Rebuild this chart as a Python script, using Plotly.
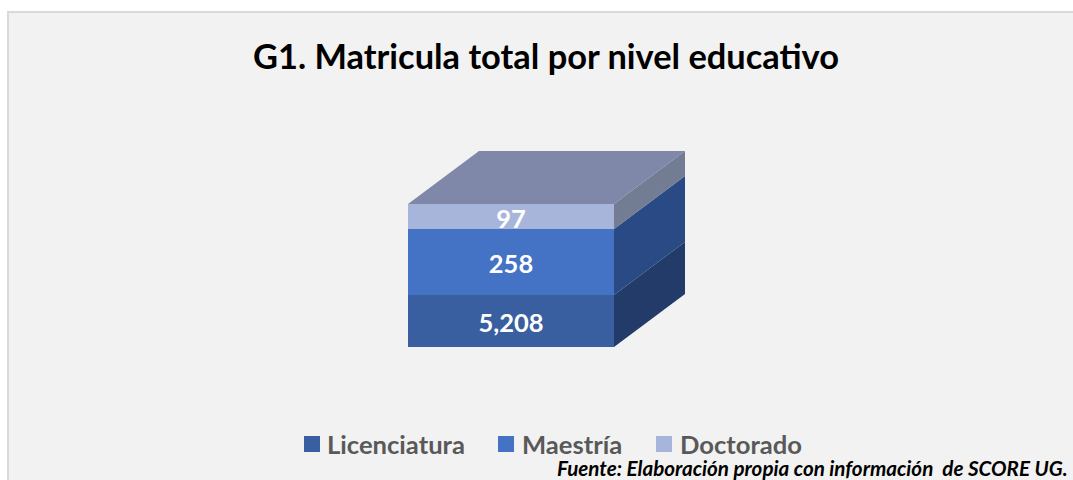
import plotly.graph_objects as go

W, H = 1073, 480

# Data
levels = ["Licenciatura", "Maestría", "Doctorado"]
labels = ["5,208", "258", "97"]
# Height of each layer as drawn, in % of the block (the drawing is not proportional to the labels)
drawn_share = [36.4, 46.2, 17.4]

front_colors = ["#3A5FA0", "#4472C4", "#A7B5DB"]
side_colors = ["#223B69", "#2A4A85", "#727C93"]
top_color = "#8088AA"
FONT = "Lato"

# Axis scale: one x unit is the block's width, one y unit is 1% of its height
px_x, px_y = 206.0, 1.43
depth_x, depth_y = 71 / px_x, 53 / px_y
half = 0.5
x0_px, y0_px = 511, 347
label_drop = 5 / px_y

# Legend layout, in page pixels
key_left_px = [304, 498, 656]
key_text_px = [325, 520, 678]
legend_y_px = 444
key_size = 16


def ax_x(px):
    return (px - x0_px) / px_x


def ax_y(px):
    return (y0_px - px) / px_y


fig = go.Figure()

# Front faces
for name, share, col in zip(levels, drawn_share, front_colors):
    fig.add_trace(go.Bar(
        x=[0], y=[share], width=[1], name=name,
        marker=dict(color=col, line=dict(width=0)),
        showlegend=False, hoverinfo="skip",
    ))

# Side faces, from the same stacked values
base = 0
mids = []
for name, share, col in zip(levels, drawn_share, side_colors):
    top = base + share
    mids.append(base + share / 2 - label_drop)
    fig.add_trace(go.Scatter(
        x=[half, half + depth_x, half + depth_x, half, half],
        y=[base, base + depth_y, top + depth_y, top, base],
        mode="lines", fill="toself", fillcolor=col, line=dict(width=0),
        showlegend=False, hoverinfo="skip",
    ))
    base = top

# Top face
fig.add_trace(go.Scatter(
    x=[-half, -half + depth_x, half + depth_x, half, -half],
    y=[base, base + depth_y, base + depth_y, base, base],
    mode="lines", fill="toself", fillcolor=top_color, line=dict(width=0),
    showlegend=False, hoverinfo="skip",
))

# Value labels
fig.add_trace(go.Scatter(
    x=[0, 0, 0], y=mids, mode="text", text=labels, textposition="middle center",
    textfont=dict(family=FONT, size=25.5, color="white", weight="bold"),
    showlegend=False, hoverinfo="skip",
))

# Legend keys and names
legend_notes = []
for name, col, kx, tx in zip(levels, front_colors, key_left_px, key_text_px):
    fig.add_trace(go.Scatter(
        x=[ax_x(kx + key_size / 2)], y=[ax_y(legend_y_px)], mode="markers", name=name,
        marker=dict(symbol="square", size=key_size, color=col),
        showlegend=False, hoverinfo="skip",
    ))
    legend_notes.append(dict(
        text=f"<b>{name}</b>", xref="paper", yref="paper", x=tx / W, y=1 - legend_y_px / H,
        xanchor="left", yanchor="middle", showarrow=False,
        font=dict(family=FONT, size=25.6, color="#595959"),
    ))

fig.update_layout(
    width=W, height=H, autosize=False,
    margin=dict(l=0, r=0, t=0, b=0),
    barmode="stack",
    paper_bgcolor="white", plot_bgcolor="rgba(0,0,0,0)",
    font=dict(family=FONT),
    showlegend=False,
    title=dict(
        text="<b>G1. Matricula total por nivel educativo</b>",
        x=546 / W, xanchor="center", y=1 - 57 / H, yanchor="middle",
        font=dict(family=FONT, size=34.4, color="black"),
    ),
    xaxis=dict(range=[-x0_px / px_x, (W - x0_px) / px_x], visible=False, fixedrange=True),
    yaxis=dict(range=[-(H - y0_px) / px_y, y0_px / px_y], visible=False, fixedrange=True),
    shapes=[dict(
        type="rect", xref="paper", yref="paper", layer="below",
        x0=8 / W, x1=1.01, y0=-0.01, y1=1 - 12 / H,
        fillcolor="#F2F2F2", line=dict(color="#D9D9D9", width=2),
    )],
    annotations=legend_notes + [dict(
        text="<b><i>Fuente: Elaboración propia con información  de SCORE UG.</i></b>",
        xref="paper", yref="paper", x=1070 / W, y=1 - 468 / H,
        xanchor="right", yanchor="middle", showarrow=False,
        font=dict(family=FONT, size=20.6, color="black"),
    )],
)

fig.write_html(
    "out.html",
    config=dict(displayModeBar=False),
    post_script="document.body.style.margin='0';",
)
